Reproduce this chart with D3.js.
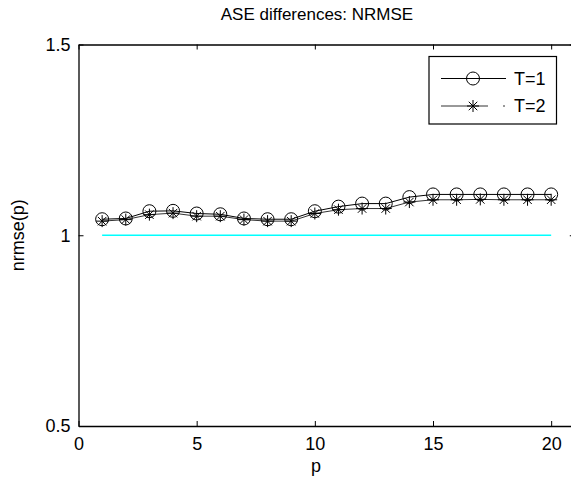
<!DOCTYPE html>
<html>
<head>
<meta charset="utf-8">
<script src="https://cdn.jsdelivr.net/npm/d3@7/dist/d3.min.js"></script>
<style>
  html, body { margin: 0; padding: 0; background: #fff; }
  svg { display: block; font-family: "Liberation Sans", Arial, sans-serif; }
</style>
</head>
<body>
<svg id="chart" width="571" height="484"></svg>
<script>
// NRMSE per p for two values of T
const p = [1, 2, 3, 4, 5, 6, 7, 8, 9, 10, 11, 12, 13, 14, 15, 16, 17, 18, 19, 20];
const nrmseT1 = [1.042, 1.044, 1.063, 1.064, 1.057, 1.055, 1.044, 1.042, 1.042, 1.063,
                 1.075, 1.083, 1.083, 1.100, 1.107, 1.107, 1.107, 1.107, 1.107, 1.107];
const nrmseT2 = [1.037, 1.041, 1.054, 1.058, 1.050, 1.050, 1.041, 1.037, 1.037, 1.057,
                 1.067, 1.070, 1.070, 1.087, 1.093, 1.093, 1.094, 1.093, 1.093, 1.093];
const baseline = [1, 1];
const xTicks = [0, 5, 10, 15, 20];
const yTicks = [0.5, 1, 1.5];
const seriesNames = ["T=1", "T=2"];

const svg = d3.select("#chart");
const plotL = 78.5, plotR = 574.8, plotT = 44.5, plotB = 426;

const x = d3.scaleLinear().domain([0, 21]).range([plotL, plotR]);
const y = d3.scaleLinear().domain([0.5, 1.5]).range([plotB, plotT]);

const fontSize = 18;

// axes box with inward ticks
const tickLen = 5;
const axB = svg.append("g").attr("transform", `translate(0,${plotB})`)
  .call(d3.axisBottom(x).tickValues(xTicks).tickSizeInner(-tickLen).tickSizeOuter(0).tickPadding(11).tickFormat(d3.format("d")));
const axT = svg.append("g").attr("transform", `translate(0,${plotT})`)
  .call(d3.axisTop(x).tickValues(xTicks).tickSizeInner(-tickLen).tickSizeOuter(0).tickFormat(""));
const axL = svg.append("g").attr("transform", `translate(${plotL},0)`)
  .call(d3.axisLeft(y).tickValues(yTicks).tickSizeInner(-tickLen).tickSizeOuter(0).tickPadding(8).tickFormat(d => d === 1 ? "1" : d3.format(".1f")(d)));
const axR = svg.append("g").attr("transform", `translate(${plotR},0)`)
  .call(d3.axisRight(y).tickValues(yTicks).tickSizeInner(-tickLen).tickSizeOuter(0).tickFormat(""));

[axB, axT, axL, axR].forEach(g => {
  g.select(".domain").attr("stroke", "#000").attr("stroke-width", 1.3);
  g.selectAll(".tick line").attr("stroke", "#000").attr("stroke-width", 1);
  g.selectAll("text").attr("font-size", fontSize).attr("fill", "#000")
    .attr("font-family", "'Liberation Sans', Arial, sans-serif");
});

// reference level at nrmse = 1
svg.append("line")
  .attr("x1", x(p[0])).attr("x2", x(p[p.length - 1]))
  .attr("y1", y(baseline[0])).attr("y2", y(baseline[1]))
  .attr("stroke", "#00ffff").attr("stroke-width", 1.3);

const line = d3.line().x((d, i) => x(p[i])).y(d => y(d));

function star(g, cx, cy, r, color) {
  const a = r * Math.SQRT1_2;
  const segs = [[-r, 0, r, 0], [0, -r, 0, r], [-a, -a, a, a], [-a, a, a, -a]];
  segs.forEach(s => g.append("line")
    .attr("x1", cx + s[0]).attr("y1", cy + s[1]).attr("x2", cx + s[2]).attr("y2", cy + s[3])
    .attr("stroke", color).attr("stroke-width", 1));
}

// T=2 series
const colT2 = "#333";
svg.append("path").datum(nrmseT2).attr("d", line)
  .attr("fill", "none").attr("stroke", colT2).attr("stroke-width", 1);
const gS = svg.append("g");
nrmseT2.forEach((v, i) => star(gS, x(p[i]), y(v), 6, "#000"));

// T=1 series
svg.append("path").datum(nrmseT1).attr("d", line)
  .attr("fill", "none").attr("stroke", "#000").attr("stroke-width", 1);
svg.append("g").selectAll("circle").data(nrmseT1).join("circle")
  .attr("cx", (d, i) => x(p[i])).attr("cy", d => y(d)).attr("r", 6.5)
  .attr("fill", "none").attr("stroke", "#000").attr("stroke-width", 1);

// legend
const lg = svg.append("g");
lg.append("rect").attr("x", 429).attr("y", 56.5).attr("width", 127.5).attr("height", 67.5)
  .attr("fill", "#fff").attr("stroke", "#000").attr("stroke-width", 1.2);
lg.append("line").attr("x1", 441).attr("x2", 506).attr("y1", 78.5).attr("y2", 78.5)
  .attr("stroke", "#000").attr("stroke-width", 1);
lg.append("circle").attr("cx", 473).attr("cy", 78.5).attr("r", 6.5)
  .attr("fill", "none").attr("stroke", "#000");
lg.append("line").attr("x1", 441).attr("x2", 488).attr("y1", 106).attr("y2", 106)
  .attr("stroke", colT2).attr("stroke-width", 1);
lg.append("line").attr("x1", 503).attr("x2", 505).attr("y1", 106).attr("y2", 106)
  .attr("stroke", colT2).attr("stroke-width", 1);
star(lg, 473, 106, 6, "#000");
lg.selectAll("text.lab").data(seriesNames).join("text").attr("class", "lab")
  .attr("x", 514).attr("y", (d, i) => [78.5, 106][i]).attr("dy", "0.36em")
  .attr("font-size", fontSize).text(d => d);

// titles
svg.append("text").attr("x", 317).attr("y", 20).attr("text-anchor", "middle")
  .attr("font-size", 17).text("ASE differences: NRMSE");
svg.append("text").attr("x", 316).attr("y", 472).attr("text-anchor", "middle")
  .attr("font-size", fontSize).text("p");
svg.append("text").attr("transform", `translate(24,${(plotT + plotB) / 2}) rotate(-90)`)
  .attr("text-anchor", "middle").attr("font-size", fontSize).text("nrmse(p)");
</script>
</body>
</html>
